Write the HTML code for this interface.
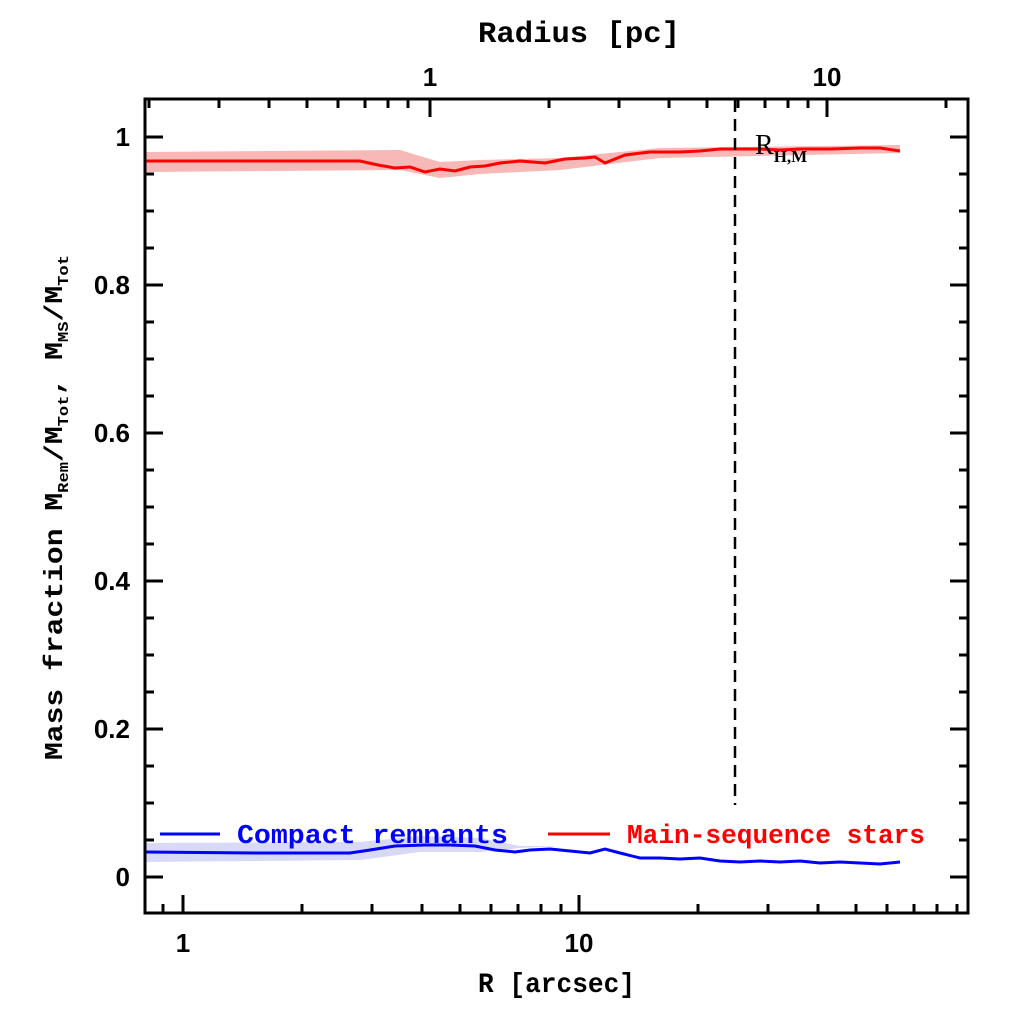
<!DOCTYPE html>
<html><head><style>
html,body{margin:0;padding:0;background:#fff;}
svg{display:block;}
text{font-family:"Liberation Sans",sans-serif;font-weight:bold;}
.m{font-family:"Liberation Mono",monospace;font-weight:bold;}
</style></head><body>
<svg width="1024" height="1024" viewBox="0 0 1024 1024" xmlns="http://www.w3.org/2000/svg">
<rect width="1024" height="1024" fill="#fff"/>
<path d="M145,152 L400,150 L440,162 L480,160 L560,158 L660,148 L900,145 L900,153 L660,158 L560,170 L480,174 L440,178 L400,170 L145,172 Z" fill="#f7b8b8"/>
<path d="M145,843 L360,842 L420,836 L480,838 L520,846 L560,846 L520,848 L480,852 L420,852 L360,860 L145,862 Z" fill="#d8d8f7"/>
<polyline fill="none" stroke="#f00" stroke-width="3" points="145,161 360,161 378,165 395,168 410,167 425,172 440,169 455,171 470,167 485,166 500,163 520,161 545,163 565,159 585,158 595,157 605,163 625,155 650,152 680,152 700,151 720,149 740,149 760,149 780,150 800,149 830,149 860,148 880,148 900,151"/>
<polyline fill="none" stroke="#00f" stroke-width="3" points="145,852 260,853 350,853 370,850 395,846 425,845 450,845 475,846 495,850 515,852 530,850 550,849 570,851 590,853 605,849 620,853 640,858 660,858 680,859 700,858 720,861 740,862 760,861 780,862 800,861 820,863 840,862 860,863 880,864 900,862"/>
<line x1="735" y1="100" x2="735" y2="805" stroke="#000" stroke-width="2.5" stroke-dasharray="12,7"/>
<rect x="145" y="99" width="823" height="814" fill="none" stroke="#000" stroke-width="3"/>
<g stroke="#000" stroke-width="3">
<path d="M145,137h18M968,137h-18M145,285h18M968,285h-18M145,433h18M968,433h-18M145,581h18M968,581h-18M145,729h18M968,729h-18M145,877h18M968,877h-18"/>
<path d="M145,174h9M968,174h-9M145,211h9M968,211h-9M145,248h9M968,248h-9M145,322h9M968,322h-9M145,359h9M968,359h-9M145,396h9M968,396h-9M145,470h9M968,470h-9M145,507h9M968,507h-9M145,544h9M968,544h-9M145,618h9M968,618h-9M145,655h9M968,655h-9M145,692h9M968,692h-9M145,766h9M968,766h-9M145,803h9M968,803h-9M145,840h9M968,840h-9"/>
<path d="M183,913v-18M579,913v-18"/>
<path d="M163,913v-9M302,913v-9M372,913v-9M422,913v-9M460,913v-9M491,913v-9M518,913v-9M541,913v-9M561,913v-9M698,913v-9M768,913v-9M818,913v-9M856,913v-9M887,913v-9M914,913v-9M937,913v-9M957,913v-9"/>
<path d="M430,99v18M827,99v18"/>
<path d="M149,99v9M219,99v9M269,99v9M307,99v9M338,99v9M365,99v9M388,99v9M408,99v9M549,99v9M619,99v9M669,99v9M707,99v9M738,99v9M765,99v9M788,99v9M808,99v9M946,99v9"/>
</g>
<g font-size="26" text-anchor="end">
<text x="130" y="146">1</text>
<text x="130" y="294">0.8</text>
<text x="130" y="442">0.6</text>
<text x="130" y="590">0.4</text>
<text x="130" y="738">0.2</text>
<text x="130" y="886">0</text>
</g>
<g font-size="26" text-anchor="middle">
<text x="183" y="952">1</text>
<text x="579" y="952">10</text>
<text x="430" y="86">1</text>
<text x="827" y="86">10</text>
</g>
<text class="m" x="478" y="992" font-size="28" textLength="157" lengthAdjust="spacingAndGlyphs">R [arcsec]</text>
<text class="m" x="478" y="42" font-size="30" textLength="202" lengthAdjust="spacingAndGlyphs">Radius [pc]</text>
<g transform="translate(62,760) rotate(-90)">
<text class="m" x="0" y="0" font-size="26" textLength="505" lengthAdjust="spacingAndGlyphs">Mass fraction  M<tspan font-size="15" dy="6">Rem</tspan><tspan dy="-6">/M</tspan><tspan font-size="15" dy="6">Tot</tspan><tspan dy="-6">, M</tspan><tspan font-size="15" dy="6">MS</tspan><tspan dy="-6">/M</tspan><tspan font-size="15" dy="6">Tot</tspan></text>
</g>
<text x="755" y="154" font-size="28" style="font-family:'Liberation Serif',serif;font-weight:normal">R<tspan font-size="17" dy="8" style="font-weight:bold">H,M</tspan></text>
<line x1="160" y1="834" x2="220" y2="834" stroke="#00f" stroke-width="3"/>
<text class="m" x="237" y="843" font-size="27" fill="#00f" textLength="271" lengthAdjust="spacingAndGlyphs">Compact remnants</text>
<line x1="548" y1="834" x2="610" y2="834" stroke="#f00" stroke-width="3"/>
<text class="m" x="627" y="843" font-size="27" fill="#f00" textLength="298" lengthAdjust="spacingAndGlyphs">Main-sequence stars</text>
</svg>
</body></html>
